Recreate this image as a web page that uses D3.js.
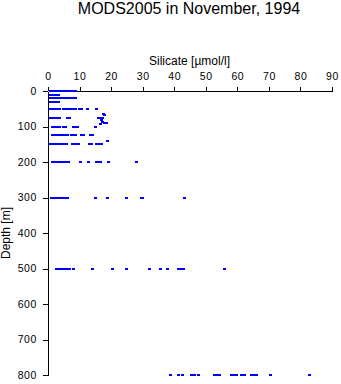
<!DOCTYPE html>
<html>
<head>
<meta charset="utf-8">
<script src="https://cdn.jsdelivr.net/npm/d3@7"></script>
<style>
  html, body { margin: 0; padding: 0; background: #fff; }
  svg { display: block; }
  text { font-family: "Liberation Sans", Arial, sans-serif; fill: #000; }
</style>
</head>
<body>
<svg id="chart" width="341" height="384"></svg>
<script>
// ---- data ----
const titleText = "MODS2005 in November, 1994";
const xLabel = "Silicate [\u00b5mol/l]";
const yLabel = "Depth [m]";
const xTicks = [0, 10, 20, 30, 40, 50, 60, 70, 80, 90];
const yTicks = [0, 100, 200, 300, 400, 500, 600, 700, 800];

const depthLevels = [0, 10, 20, 30, 50, 75, 100, 125, 150, 200, 300, 500, 800];
const silicateAtLevel = [
  [0.8,1.3,1.8,2.3,2.8,3.3,3.8,4.3,4.8,5.3,5.8,6.3,6.8,7.3,7.8,8.3,8.8],
  [0.8,1.3,1.8,2.3,2.8,3.3],
  [0.8,1.3,1.8,2.3,2.8,3.3,4.2,4.7,5.2,5.8,6.3,6.8,7.3,7.8,8.3,8.8],
  [0.8,1.3,1.8,2.3,2.8,3.3],
  [0.8,1.3,1.8,2.3,2.8,3.3,3.8,4.8,5.3,5.9,6.4,7.3,7.8,8.3,8.8,10.0,10.5,12.6,15.4],
  [0.8,1.3,1.8,2.3,2.8,3.3,3.8,6.2,6.7,16.0,16.5,17.3],
  [1.3,1.8,2.3,2.8,3.3,3.8,5.0,5.6,8.0,8.5,9.0,9.5,15.0],
  [1.5,2.0,2.5,3.0,3.5,4.0,5.0,5.5,6.3,7.3,7.8,8.3,8.8,10.5,11.1,13.6,14.1],
  [0.9,1.4,1.9,2.4,2.9,3.4,3.9,4.4,4.9,5.4,5.9,7.8,8.5,9.2,9.7,13.3,13.8,15.3,15.8,16.4,16.9],
  [1.5,2.0,2.5,3.0,3.5,4.0,4.5,5.0,5.5,6.0,6.5,10.2,12.9,15.4,16.0,16.7,19.2,28.0],
  [1.2,1.7,2.2,2.7,3.2,3.7,4.2,4.7,5.2,5.7,6.1,14.9,18.7,24.9,29.5,30.0,43.1],
  [2.7,3.2,3.7,4.2,4.7,5.2,5.8,6.3,6.9,8.0,14.1,20.3,24.9,32.1,35.5,38.0,41.3,41.9,42.9,56.0],
  [38.9,41.5,42.6,45.6,46.3,47.6,52.8,53.6,54.5,58.3,59.0,59.8,61.4,62.3,64.5,65.3,66.2,70.4,83.0]
];
// off-level samples
const extraSilicate = [17.7, 17.9, 16.9, 17.3, 16.6, 18.0, 18.6, 18.8];
const extraDepth    = [64,   68,   83,   86,   92,   90,   90,   142];

// ---- chart ----
const svg = d3.select("#chart");
const x = d3.scaleLinear().domain([0, 90]).range([48, 332]);
const y = d3.scaleLinear().domain([0, 800]).range([91, 375]);

const points = [];
depthLevels.forEach((d, i) => silicateAtLevel[i].forEach(s => points.push({ s, d })));
extraSilicate.forEach((s, i) => points.push({ s, d: extraDepth[i] }));

svg.append("text")
  .attr("x", 189).attr("y", 13.5)
  .attr("text-anchor", "middle")
  .style("font-size", "16px")
  .text(titleText);

svg.append("text")
  .attr("x", 189.5).attr("y", 65)
  .attr("text-anchor", "middle")
  .style("font-size", "12px")
  .text(xLabel);

svg.append("text")
  .attr("transform", `translate(9.5,${(91 + 375) / 2}) rotate(-90)`)
  .attr("text-anchor", "middle")
  .style("font-size", "12px")
  .text(yLabel);

const xAxis = svg.append("g")
  .attr("transform", "translate(0,91)")
  .call(d3.axisTop(x).tickValues(xTicks).tickSize(4).tickSizeOuter(0).tickPadding(7.5));
const yAxis = svg.append("g")
  .attr("transform", "translate(48,0)")
  .call(d3.axisLeft(y).tickValues(yTicks).tickSize(5).tickSizeOuter(0).tickPadding(6));

[xAxis, yAxis].forEach(g => {
  g.selectAll("path, line").attr("stroke", "#000").attr("shape-rendering", "crispEdges");
  g.selectAll("text")
    .style("font-family", "'Liberation Sans', Arial, sans-serif")
    .style("font-size", "10.5px")
    .style("letter-spacing", "0.6px")
    .attr("fill", "#000");
});

svg.append("g")
  .selectAll("rect")
  .data(points)
  .join("rect")
  .attr("x", p => Math.round(x(p.s) - 1.5))
  .attr("y", p => Math.round(y(p.d) - 1))
  .attr("width", 3)
  .attr("height", 2)
  .attr("fill", "#0000ff")
  .attr("shape-rendering", "crispEdges");
</script>
</body>
</html>
